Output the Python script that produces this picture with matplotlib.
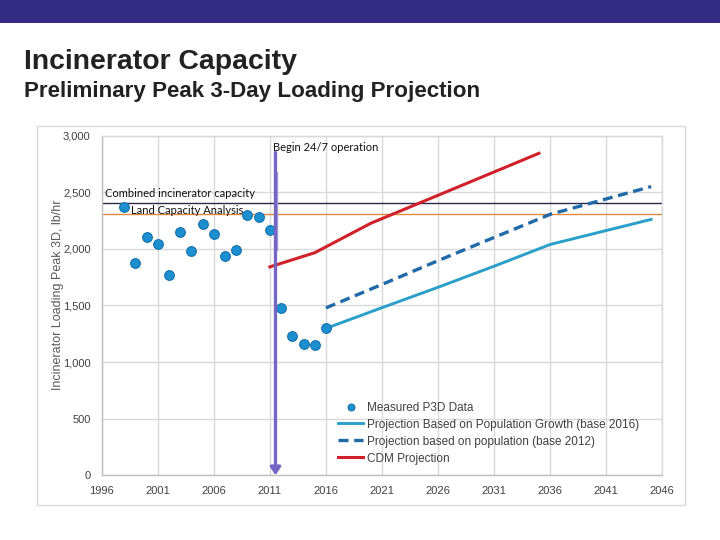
import matplotlib
matplotlib.use("Agg")
import matplotlib.pyplot as plt
from matplotlib.patches import Rectangle

# ---- data ----
meas_years = [1998, 1999, 2000, 2001, 2002, 2003, 2004, 2005, 2006, 2007,
              2008, 2009, 2010, 2011, 2012, 2013, 2014, 2015, 2016]
meas_vals = [2368, 1870, 2100, 2038, 1766, 2147, 1979, 2218, 2129, 1935,
             1988, 2301, 2277, 2162, 1474, 1227, 1162, 1153, 1297]

pop16_years = [2016, 2021, 2026, 2031, 2036, 2041, 2045]
pop16_vals = [1297, 1480, 1660, 1846, 2038, 2161, 2259]

pop12_years = [2016, 2021, 2026, 2031, 2036, 2041, 2045]
pop12_vals = [1478, 1685, 1895, 2100, 2304, 2440, 2549]

cdm_years = [2011, 2015, 2020, 2025, 2030, 2035]
cdm_vals = [1840, 1965, 2225, 2431, 2637, 2843]

combined_capacity = 2400
land_capacity = 2310
begin_year = 2011.5
begin_top = 2850

x_ticks = [1996, 2001, 2006, 2011, 2016, 2021, 2026, 2031, 2036, 2041, 2046]
y_ticks = [0, 500, 1000, 1500, 2000, 2500, 3000]

plt.rcParams['font.family'] = ['Liberation Sans', 'DejaVu Sans']

fig = plt.figure(figsize=(7.2, 5.4), dpi=100)

# top banner
fig.patches.append(Rectangle((0, 1 - 23 / 540), 1, 23 / 540, transform=fig.transFigure,
                             facecolor='#342c85', edgecolor='none', zorder=0))
# chart area border
fig.patches.append(Rectangle((37 / 720, 1 - 504.5 / 540), (684.5 - 37) / 720, (504.5 - 126) / 540,
                             transform=fig.transFigure, facecolor='none',
                             edgecolor='#d9d9d9', linewidth=1.0, zorder=0))

fig.text(24 / 720, 1 - 69 / 540, "Incinerator Capacity",
         fontsize=20.4, fontweight='bold', color='#222222', va='baseline', ha='left')
fig.text(24 / 720, 1 - 97 / 540, "Preliminary Peak 3-Day Loading Projection",
         fontsize=16.1, fontweight='bold', color='#222222', va='baseline', ha='left')

ax = fig.add_axes([101.7 / 720, 1 - 475.3 / 540, (662.3 - 101.7) / 720, (475.3 - 135.5) / 540])
ax.set_xlim(1996, 2046)
ax.set_ylim(0, 3000)
ax.set_xticks(x_ticks)
ax.set_xticklabels([str(t) for t in x_ticks])
ax.set_yticks(y_ticks)
ax.set_yticklabels([f"{t:,}" for t in y_ticks])
ax.grid(True, color='#d9d9d9', linewidth=1.0)
ax.set_axisbelow(True)
for s in ax.spines.values():
    s.set_color('#d9d9d9')
    s.set_linewidth(1.0)
ax.spines['bottom'].set_color('#bfbfbf')
ax.spines['left'].set_color('#bfbfbf')
ax.tick_params(length=0, labelsize=8, colors='#404040', pad=8)
ax.set_ylabel("Incinerator Loading Peak 3D, lb/hr", fontsize=9, color='#595959', labelpad=2)
ax.yaxis.set_label_coords(-0.068, 0.53)

ax.axhline(combined_capacity, color='#2b2b4a', linewidth=1.0, zorder=2)
ax.axhline(land_capacity, color='#e38a3a', linewidth=1.0, zorder=2)

ax.plot(pop16_years, pop16_vals, color='#2a9fc9', linewidth=2.1, zorder=3,
        label='Projection Based on Population Growth (base 2016)')
ax.plot(pop12_years, pop12_vals, color='#1f6aa8', linewidth=2.4, zorder=3,
        dashes=(3.0, 1.7), label='Projection based on population (base 2012)')
ax.plot(cdm_years, cdm_vals, color='#d0202a', linewidth=2.2, zorder=3, label='CDM Projection')
ax.plot(meas_years, meas_vals, linestyle='none', marker='o', markersize=7,
        markerfacecolor='#1b8fd0', markeredgecolor='#1373ad', markeredgewidth=0.8,
        zorder=4, label='Measured P3D Data')

# faint secondary edge next to the 24/7 marker line
ax.plot([begin_year + 0.17, begin_year + 0.17], [1990, 2680], color='#a79fd6',
        linewidth=1.0, zorder=4.5)
ax.annotate('', xy=(begin_year, 0), xytext=(begin_year, begin_top),
            arrowprops=dict(arrowstyle='-|>,head_width=0.3,head_length=0.45',
                            color='#7466c2', linewidth=2.4, shrinkA=0, shrinkB=0), zorder=5)

ax.text(2011.3, 2890, "Begin 24/7 operation", fontsize=8, family=['Lato', 'DejaVu Sans'],
        color='#111111', va='center', ha='left')
ax.text(1996.25, 2490, "Combined incinerator capacity", fontsize=8, family=['Lato', 'DejaVu Sans'],
        color='#111111', va='center', ha='left')
ax.text(1998.6, 2340, "Land Capacity Analysis", fontsize=8, family=['Lato', 'DejaVu Sans'],
        color='#111111', va='center', ha='left')

h, l = ax.get_legend_handles_labels()
order = [3, 0, 1, 2]
leg = ax.legend([h[i] for i in order], [l[i] for i in order], loc='upper left',
                bbox_to_anchor=(0.403, 0.248), frameon=False, fontsize=8.5,
                handlelength=2.1, handletextpad=0.3, labelspacing=0.42,
                markerscale=0.7, borderpad=0.4)
for t in leg.get_texts():
    t.set_color('#404040')

fig.savefig('out.png', dpi=100)
